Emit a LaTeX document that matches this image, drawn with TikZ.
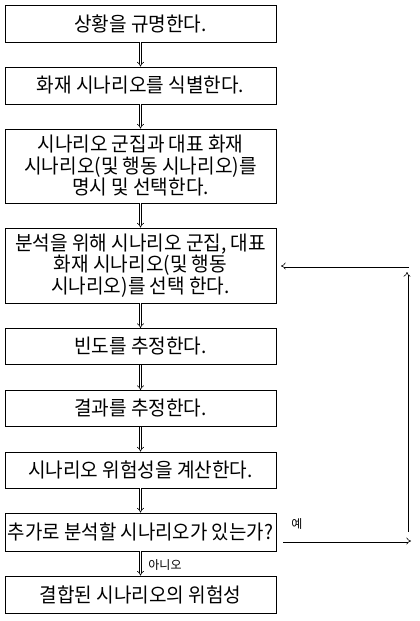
\documentclass[tikz,border=0pt]{standalone}
\usepackage{fontspec}
\setmainfont{Noto Sans CJK KR}
\newfontfamily\kfont[FakeStretch=0.955]{Noto Sans CJK KR}
\newfontfamily\kfontn[FakeStretch=0.945]{Noto Sans CJK KR}
\usetikzlibrary{arrows.meta}
\tikzset{
  stepbox/.style={draw=black, line width=0.8pt, minimum width=271pt, inner sep=1pt, align=center, font=\kfont\fontsize{20}{21.5}\selectfont},
  narrowtext/.style={font=\kfontn\fontsize{20}{21.5}\selectfont},
  dblarrow/.style={double=white, draw=black, line width=0.6pt, double distance=1.8pt, -{Implies}},
  lbl/.style={font=\fontsize{12}{13}\selectfont, inner sep=0pt}
}
\begin{document}
\begin{tikzpicture}[x=1pt,y=-1pt]
\useasboundingbox (0,0) rectangle (420,621);
\node[stepbox, minimum height=37pt] (b1) at (140.5,23.5) {상황을 규명한다.};
\node[stepbox, minimum height=37pt] (b2) at (140.5,85.5) {화재 시나리오를 식별한다.};
\node[stepbox, minimum height=74pt] (b3) at (140.5,166) {시나리오 군집과 대표 화재\\시나리오(및 행동 시나리오)를\\명시 및 선택한다.};
\node[stepbox, minimum height=75pt] (b4) at (140.5,265.5) {분석을 위해 시나리오 군집, 대표\\화재 시나리오(및 행동\\시나리오)를 선택 한다.};
\node[stepbox, minimum height=36pt] (b5) at (140.5,346.5) {빈도를 추정한다.};
\node[stepbox, minimum height=36pt] (b6) at (140.5,408.5) {결과를 추정한다.};
\node[stepbox, minimum height=36pt] (b7) at (140.5,470) {시나리오 위험성을 계산한다.};
\node[stepbox, narrowtext, minimum height=38pt] (b8) at (140.5,532) {추가로 분석할 시나리오가 있는가?};
\node[stepbox, minimum height=37pt] (b9) at (140.5,594.5) {결합된 시나리오의 위험성};

\draw[dblarrow] (b1.south) -- (b2.north);
\draw[dblarrow] (b2.south) -- (b3.north);
\draw[dblarrow] (b3.south) -- (b4.north);
\draw[dblarrow] (b4.south) -- (b5.north);
\draw[dblarrow] (b5.south) -- (b6.north);
\draw[dblarrow] (b6.south) -- (b7.north);
\draw[dblarrow] (b7.south) -- (b8.north);
\draw[dblarrow] (b8.south) -- (b9.north);

\coordinate (yesS) at (283,541);
\coordinate (yesE) at (411,541);
\coordinate (upS) at (407,532);
\coordinate (upE) at (407,272);
\coordinate (backS) at (409,266);
\coordinate (backE) at (281,266);
\draw[dblarrow] (yesS) -- (yesE);
\draw[dblarrow] (upS) -- (upE);
\draw[dblarrow] (backS) -- (backE);

\node[lbl] (yes) at (297,524) {예};
\node[lbl] (no) at (165,565) {아니오};
\end{tikzpicture}
\end{document}
